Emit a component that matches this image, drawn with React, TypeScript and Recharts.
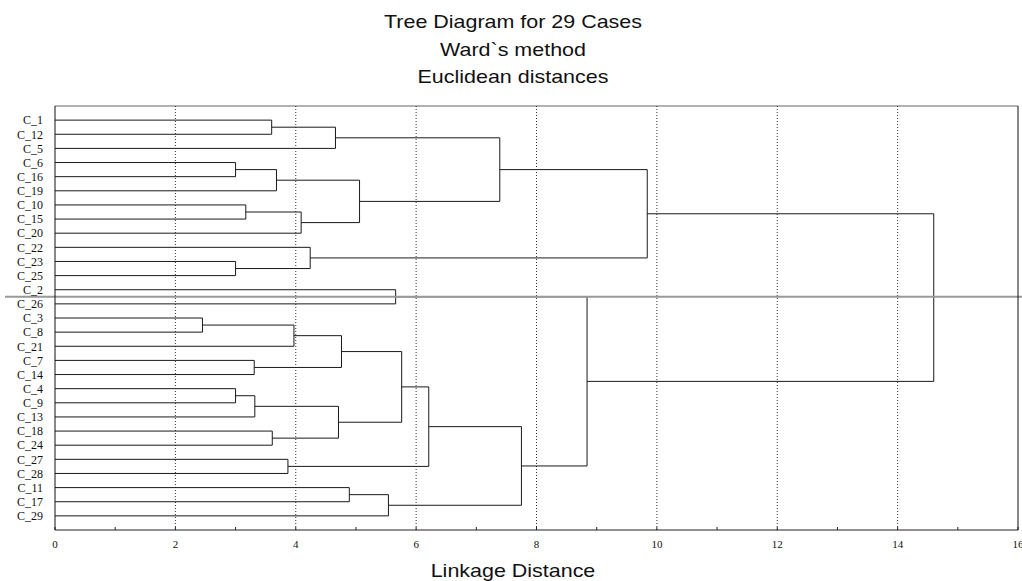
import { ComposedChart, Line, XAxis, YAxis, ReferenceLine } from 'recharts';

// leaf order top to bottom, as drawn in the tree
const leafLabels = [
  'C_1', 'C_12', 'C_5', 'C_6', 'C_16', 'C_19', 'C_10', 'C_15', 'C_20', 'C_22',
  'C_23', 'C_25', 'C_2', 'C_26', 'C_3', 'C_8', 'C_21', 'C_7', 'C_14', 'C_4',
  'C_9', 'C_13', 'C_18', 'C_24', 'C_27', 'C_28', 'C_11', 'C_17', 'C_29',
];

// [child a, child b, linkage distance]; leaves are 0..28, merged clusters get 29, 30, ...
const linkage: [number, number, number][] = [
  [0, 1, 3.6],    // 29
  [29, 2, 4.66],  // 30
  [3, 4, 3.0],    // 31
  [31, 5, 3.68],  // 32
  [6, 7, 3.17],   // 33
  [33, 8, 4.09],  // 34
  [32, 34, 5.06], // 35
  [10, 11, 3.0],  // 36
  [9, 36, 4.24],  // 37
  [30, 35, 7.39], // 38
  [38, 37, 9.84], // 39
  [12, 13, 5.66], // 40
  [14, 15, 2.45], // 41
  [41, 16, 3.97], // 42
  [17, 18, 3.31], // 43
  [42, 43, 4.76], // 44
  [19, 20, 3.0],  // 45
  [45, 21, 3.32], // 46
  [22, 23, 3.61], // 47
  [46, 47, 4.71], // 48
  [44, 48, 5.76], // 49
  [24, 25, 3.87], // 50
  [49, 50, 6.21], // 51
  [26, 27, 4.89], // 52
  [52, 28, 5.54], // 53
  [51, 53, 7.75], // 54
  [40, 54, 8.84], // 55
  [39, 55, 14.6], // 56
];

const xTicks = [0, 1, 2, 3, 4, 5, 6, 7, 8, 9, 10, 11, 12, 13, 14, 15, 16];
const gridValues = [2, 4, 6, 8, 10, 12, 14];
const cutLevel = 12.5;

const titleLines = ['Tree Diagram for 29 Cases', 'Ward`s method', 'Euclidean distances'];
const xTitle = 'Linkage Distance';

// turn the linkage table into bracket polylines (leaf position = its row)
const pos: number[] = leafLabels.map((_, i) => i);
const hgt: number[] = leafLabels.map(() => 0);
const brackets = linkage.map(([a, b, h]) => {
  const pts = [
    { x: hgt[a], y: pos[a] },
    { x: h, y: pos[a] },
    { x: h, y: pos[b] },
    { x: hgt[b], y: pos[b] },
  ];
  pos.push((pos[a] + pos[b]) / 2);
  hgt.push(h);
  return pts;
});

const leafTicks = leafLabels.map((_, i) => i);
const serif = "'Liberation Serif', 'Times New Roman', serif";
const sans = "'Liberation Sans', Arial, Helvetica, sans-serif";

// the original's headings are a slightly stretched Helvetica
const textStyle = {
  position: 'absolute' as const,
  left: 0,
  width: 1026,
  textAlign: 'center' as const,
  fontFamily: sans,
  fontSize: 18.5,
  lineHeight: '18.5px',
  color: '#111',
  transform: 'scaleX(1.16)',
  transformOrigin: '513px 0',
};

export default function App() {
  return (
    <div style={{ position: 'absolute', left: 0, top: 0, width: 1022, height: 581, background: '#fff', overflow: 'hidden' }}>
      {titleLines.map((t, i) => (
        <div key={t} style={{ ...textStyle, top: [12.7, 41, 68][i] }}>{t}</div>
      ))}
      <div style={{ ...textStyle, top: 562.3 }}>{xTitle}</div>
      <ComposedChart width={1022} height={581} margin={{ top: 106, right: 3, bottom: 0, left: 0 }}>
        <XAxis
          type="number"
          dataKey="x"
          domain={[0, 16]}
          allowDataOverflow
          ticks={xTicks}
          interval={0}
          height={51}
          tickSize={-3}
          tickMargin={13}
          tickFormatter={(v: number) => (v % 2 === 0 ? String(v) : '')}
          stroke="#222"
          tick={{ fill: '#111', fontSize: 11, fontFamily: serif }}
        />
        <YAxis
          yAxisId="left"
          type="number"
          dataKey="y"
          domain={[-1, 29]}
          allowDataOverflow
          reversed
          ticks={leafTicks}
          interval={0}
          width={55}
          tickLine={false}
          tickSize={6}
          tickMargin={6}
          tickFormatter={(v: number) => leafLabels[v] ?? ''}
          stroke="#111"
          tick={{ fill: '#111', fontSize: 12, fontFamily: serif }}
        />
        <YAxis
          yAxisId="right"
          orientation="right"
          type="number"
          domain={[-1, 29]}
          allowDataOverflow
          reversed
          ticks={leafTicks}
          interval={0}
          width={1}
          tick={false}
          tickSize={-4}
          stroke="#111"
        />
        <ReferenceLine yAxisId="left" y={-1} stroke="#999" strokeWidth={1.5} />
        {gridValues.map((g) => (
          <ReferenceLine key={g} yAxisId="left" x={g} stroke="#333" strokeDasharray="1 2" />
        ))}
        {brackets.map((pts, i) => (
          <Line
            key={i}
            yAxisId="left"
            data={pts}
            dataKey="y"
            type="linear"
            stroke="#1a1a1a"
            strokeWidth={1}
            dot={false}
            activeDot={false}
            isAnimationActive={false}
          />
        ))}
        <ReferenceLine
          yAxisId="left"
          segment={[{ x: -0.83, y: cutLevel }, { x: 16.1, y: cutLevel }]}
          ifOverflow="visible"
          stroke="#999"
          strokeWidth={2}
        />
      </ComposedChart>
    </div>
  );
}
